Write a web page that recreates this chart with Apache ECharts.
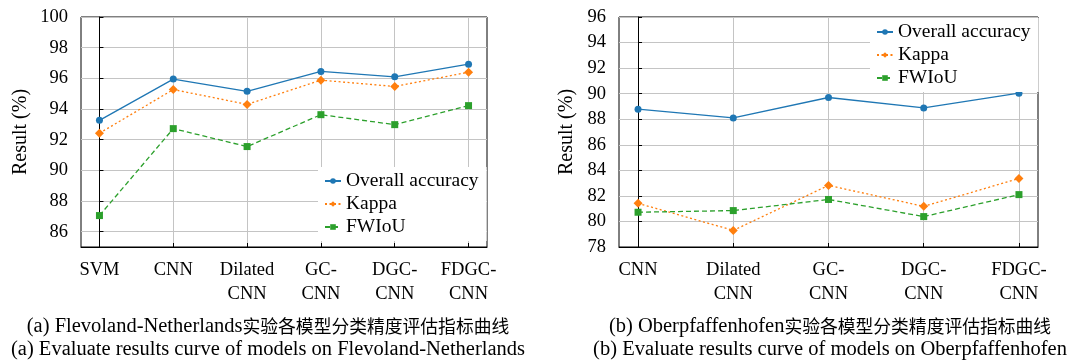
<!DOCTYPE html>
<html>
<head>
<meta charset="utf-8">
<script src="https://cdn.jsdelivr.net/npm/echarts@6/dist/echarts.min.js"></script>
<style>
html,body{margin:0;padding:0;background:#fff;}
#c{width:1068px;height:361px;}
</style>
</head>
<body>
<div id="c"></div>
<script>
// ---- data ----
const catsA = ['SVM', 'CNN', 'Dilated\nCNN', 'GC-\nCNN', 'DGC-\nCNN', 'FDGC-\nCNN'];
const oaA = [93.26, 95.95, 95.15, 96.45, 96.10, 96.92];
const kappaA = [92.42, 95.27, 94.30, 95.88, 95.47, 96.40];
const fwiouA = [87.05, 92.72, 91.55, 93.63, 92.98, 94.22];
const yTicksA = [86, 88, 90, 92, 94, 96, 98, 100];

const catsB = ['CNN', 'Dilated\nCNN', 'GC-\nCNN', 'DGC-\nCNN', 'FDGC-\nCNN'];
const oaB = [88.79, 88.10, 89.70, 88.88, 90.04];
const kappaB = [81.42, 79.30, 82.82, 81.18, 83.36];
const fwiouB = [80.72, 80.85, 81.72, 80.38, 82.10];
const yTicksB = [78, 80, 82, 84, 86, 88, 90, 92, 94, 96];

const seriesNames = ['Overall accuracy', 'Kappa', 'FWIoU'];
const captionA = ['(a) Flevoland-Netherlands', '实验各模型分类精度评估指标曲线', '(a) Evaluate results curve of models on Flevoland-Netherlands'];
const captionB = ['(b) Oberpfaffenhofen', '实验各模型分类精度评估指标曲线', '(b) Evaluate results curve of models on Oberpfaffenhofen'];

// ---- styling ----
const FONT = '"Liberation Serif", "Noto Sans CJK SC", serif';
const CJK = '"Noto Sans CJK SC", sans-serif';
const COLORS = ['#1f77b4', '#ff7f0e', '#2ca02c'];
const GRIDC = '#c4c4c4';

function pairs(arr) { return arr.map((v, i) => [i, v]); }
function idxList(arr) { return arr.map((_, i) => i); }

function xAxisFor(gi, cats, pad) {
  const ticks = idxList(cats);
  return {
    type: 'value', gridIndex: gi, min: -pad, max: cats.length - 1 + pad,
    axisLine: { show: true, lineStyle: { color: '#000', width: 1 } },
    axisTick: { show: true, inside: true, length: 4, customValues: ticks, lineStyle: { color: '#000' } },
    axisLabel: {
      customValues: ticks, margin: 11, color: '#000', fontFamily: FONT, fontSize: 18.5, lineHeight: 24,
      formatter: v => cats[Math.round(v)]
    },
    splitLine: { show: true, lineStyle: { color: GRIDC, width: 1 } }
  };
}
function yAxisFor(gi, min, max, ticks, gap) {
  return {
    type: 'value', gridIndex: gi, min: min, max: max,
    name: 'Result (%)', nameLocation: 'middle', nameGap: gap, nameRotate: 90,
    nameTextStyle: { color: '#000', fontFamily: FONT, fontSize: 20 },
    axisLine: { show: true, lineStyle: { color: '#000', width: 1 } },
    axisTick: { show: true, inside: true, length: 4, customValues: ticks, lineStyle: { color: '#000' } },
    axisLabel: { customValues: ticks, margin: 13, color: '#000', fontFamily: FONT, fontSize: 18.5 },
    splitLine: { show: true, lineStyle: { color: GRIDC, width: 1 } }
  };
}
function seriesFor(gi, oa, kappa, fw) {
  const common = { type: 'line', xAxisIndex: gi, yAxisIndex: gi, z: 3 };
  return [
    Object.assign({}, common, { name: seriesNames[0], data: pairs(oa), symbol: 'circle', symbolSize: 7,
      lineStyle: { color: COLORS[0], width: 1.3, type: 'solid' }, itemStyle: { color: COLORS[0] } }),
    Object.assign({}, common, { name: seriesNames[1], data: pairs(kappa), symbol: 'diamond', symbolSize: 9,
      lineStyle: { color: COLORS[1], width: 1.3, type: [2, 2.5] }, itemStyle: { color: COLORS[1] } }),
    Object.assign({}, common, { name: seriesNames[2], data: pairs(fw), symbol: 'rect', symbolSize: 7,
      lineStyle: { color: COLORS[2], width: 1.3, type: [5, 3] }, itemStyle: { color: COLORS[2] } })
  ];
}
function legendFor(left, top) {
  return {
    data: seriesNames, orient: 'vertical', left: left, top: top,
    backgroundColor: '#fff', padding: [4, 8, 4, 6], itemGap: 3, itemWidth: 16, itemHeight: 7,
    textStyle: { color: '#000', fontFamily: FONT, fontSize: 19.5, lineHeight: 20 },
    z: 5
  };
}
function captionTitle(cap, cx) {
  return {
    text: '{l|' + cap[0] + '}{c|' + cap[1] + '}\n{l|' + cap[2] + '}',
    left: cx, top: 315, textAlign: 'center', padding: 0,
    textStyle: {
      color: '#000', fontWeight: 'normal', lineHeight: 23,
      rich: {
        l: { fontFamily: FONT, fontSize: 20.5, lineHeight: 23, color: '#000' },
        c: { fontFamily: CJK, fontSize: 17.8, lineHeight: 23, color: '#000' }
      }
    }
  };
}

const chart = echarts.init(document.getElementById('c'), null, { renderer: 'canvas' });
chart.setOption({
  animation: false,
  backgroundColor: '#fff',
  title: [captionTitle(captionA, 268), captionTitle(captionB, 830)],
  grid: [
    { left: 81, top: 17, width: 406, height: 230, show: true, borderColor: '#000', borderWidth: 1, backgroundColor: 'transparent' },
    { left: 619, top: 17, width: 419, height: 230, show: true, borderColor: '#000', borderWidth: 1, backgroundColor: 'transparent' }
  ],
  xAxis: [xAxisFor(0, catsA, 0.25), xAxisFor(1, catsB, 0.2)],
  yAxis: [yAxisFor(0, 85, 100, yTicksA, 50), yAxisFor(1, 78, 96, yTicksB, 42)],
  legend: [legendFor(318, 167), legendFor(870, 18)],
  series: seriesFor(0, oaA, kappaA, fwiouA).concat(seriesFor(1, oaB, kappaB, fwiouB))
});
</script>
</body>
</html>
